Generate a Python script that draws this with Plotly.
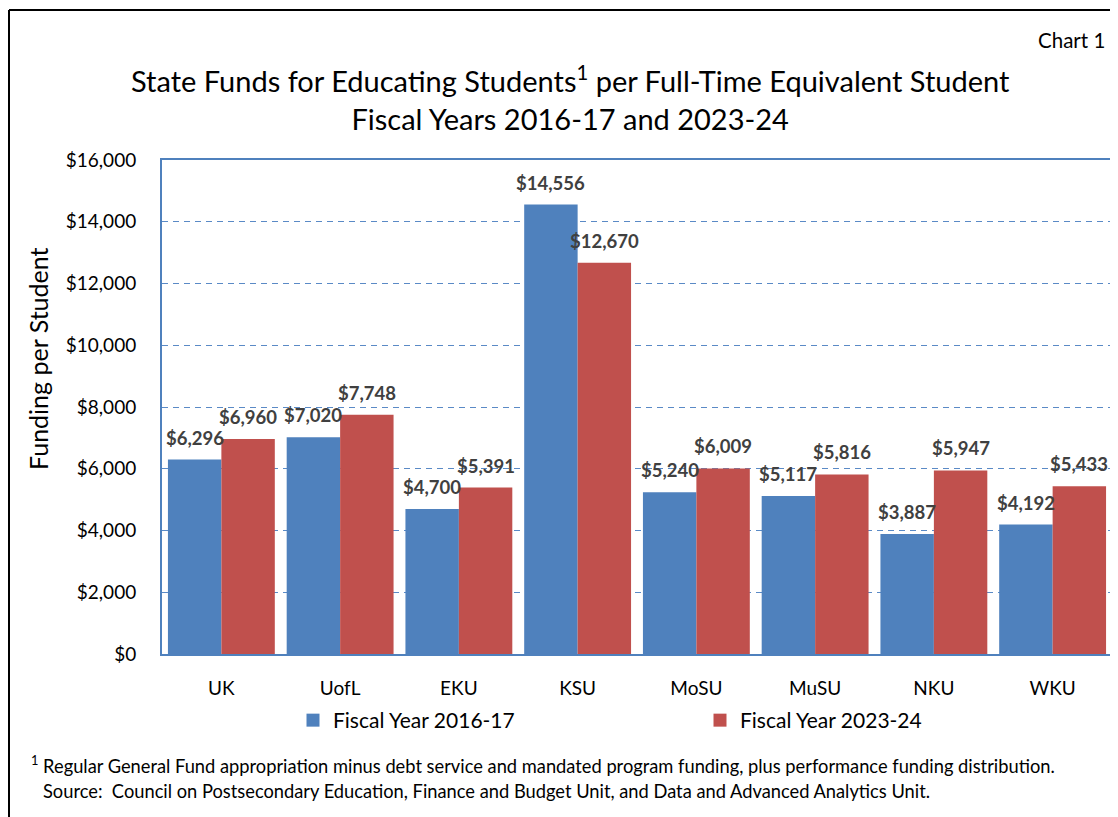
import plotly.graph_objects as go

categories = ["UK", "UofL", "EKU", "KSU", "MoSU", "MuSU", "NKU", "WKU"]
fy2017 = [6296, 7020, 4700, 14556, 5240, 5117, 3887, 4192]
fy2024 = [6960, 7748, 5391, 12670, 6009, 5816, 5947, 5433]
series_names = ["Fiscal Year 2016-17", "Fiscal Year 2023-24"]
y_ticks = [0, 2000, 4000, 6000, 8000, 10000, 12000, 14000, 16000]

BLUE = "#4F81BD"
RED = "#C0504D"
GRID = "#5A8AC6"
FONT = "Lato"

OFF = 8  # page body margin offset
W, H = 1118, 817
# plot area in reference pixel coordinates
PL, PR, PT, PB = 162, 1112, 160, 654
L = PL - OFF
T = PT - OFF
R = W - (PR - OFF)
B = H - (PB - OFF)
pw, ph = W - L - R, H - T - B


def px_x(x):
    return (x - OFF - L) / pw


def px_y(y):
    return (H - B - (y - OFF)) / ph


fig = go.Figure()
annotations = [
    dict(text="State Funds for Educating Students<sup>1</sup> per Full-Time Equivalent Student<br>Fiscal Years 2016-17 and 2023-24",
         xref="paper", yref="paper", x=px_x(570), y=px_y(98), xanchor="center", yanchor="middle",
         showarrow=False, font=dict(family=FONT, size=29, color="black"), align="center"),
    dict(text="Chart 1", xref="paper", yref="paper", x=px_x(1107), y=px_y(40), xanchor="right", yanchor="middle",
         showarrow=False, font=dict(family=FONT, size=20.5, color="black")),
    dict(text="Funding per Student", xref="paper", yref="paper", x=px_x(38), y=px_y(359),
         xanchor="center", yanchor="middle", textangle=-90,
         showarrow=False, font=dict(family=FONT, size=25, color="black")),
    dict(text="<sup>1</sup> Regular General Fund appropriation minus debt service and mandated program funding, plus performance funding distribution.",
         xref="paper", yref="paper", x=px_x(29), y=px_y(764), xanchor="left", yanchor="middle",
         showarrow=False, font=dict(family=FONT, size=18.3, color="black")),
    dict(text="Source:  Council on Postsecondary Education, Finance and Budget Unit, and Data and Advanced Analytics Unit.",
         xref="paper", yref="paper", x=px_x(41), y=px_y(791), xanchor="left", yanchor="middle",
         showarrow=False, font=dict(family=FONT, size=18.3, color="black")),
]

bar_half = 0.9 * pw / len(categories) / 4
for (name, vals, col), sgn in zip([(series_names[0], fy2017, BLUE), (series_names[1], fy2024, RED)], [-1, 1]):
    fig.add_trace(go.Bar(
        x=categories, y=vals, name=name, marker_color=col, marker_line_width=0,
        showlegend=False,
    ))
    for c, v in zip(categories, vals):
        annotations.append(dict(
            x=c, y=v, xref="x", yref="y", xshift=sgn * bar_half, yshift=9,
            yanchor="bottom", xanchor="center", showarrow=False,
            text=f"${v:,}", font=dict(family=FONT, size=18.5, color="#404040", weight="bold"),
        ))
for name, col in [(series_names[0], BLUE), (series_names[1], RED)]:
    fig.add_trace(go.Scatter(
        x=[None], y=[None], mode="markers", name=name,
        marker=dict(symbol="square", size=13, color=col), showlegend=True,
    ))

fig.update_layout(
    width=W, height=H,
    margin=dict(l=L, r=R, t=T, b=B),
    paper_bgcolor="white", plot_bgcolor="white",
    font=dict(family=FONT, color="black"),
    barmode="group", bargap=0.1, bargroupgap=0,
    showlegend=True,
    legend=dict(
        orientation="h", x=px_x(293), xanchor="left", y=px_y(700), yanchor="top",
        font=dict(family=FONT, size=21, color="black"),
        entrywidth=362, entrywidthmode="pixels", bgcolor="rgba(0,0,0,0)",
    ),
    xaxis=dict(
        showline=True, linecolor=BLUE, linewidth=2, mirror=True,
        showgrid=False, ticks="", tickfont=dict(family=FONT, size=19, color="black"),
        ticklabelstandoff=16,
    ),
    yaxis=dict(
        range=[0, 16000], tickvals=y_ticks, tickformat="$,.0f",
        showline=True, linecolor=BLUE, linewidth=2, mirror=True,
        showgrid=True, gridcolor=GRID, griddash="6px,5px", gridwidth=1.3,
        zeroline=False, ticks="",
        tickfont=dict(family=FONT, size=19, color="black"),
        ticklabelstandoff=20,
    ),
    shapes=[
        dict(type="line", xref="paper", yref="paper", x0=px_x(9), x1=px_x(1140), y0=px_y(10), y1=px_y(10),
             line=dict(color="black", width=2)),
        dict(type="line", xref="paper", yref="paper", x0=px_x(9), x1=px_x(9), y0=px_y(10), y1=px_y(840),
             line=dict(color="black", width=2)),
    ],
    annotations=annotations,
)

fig.write_html("out.html")
